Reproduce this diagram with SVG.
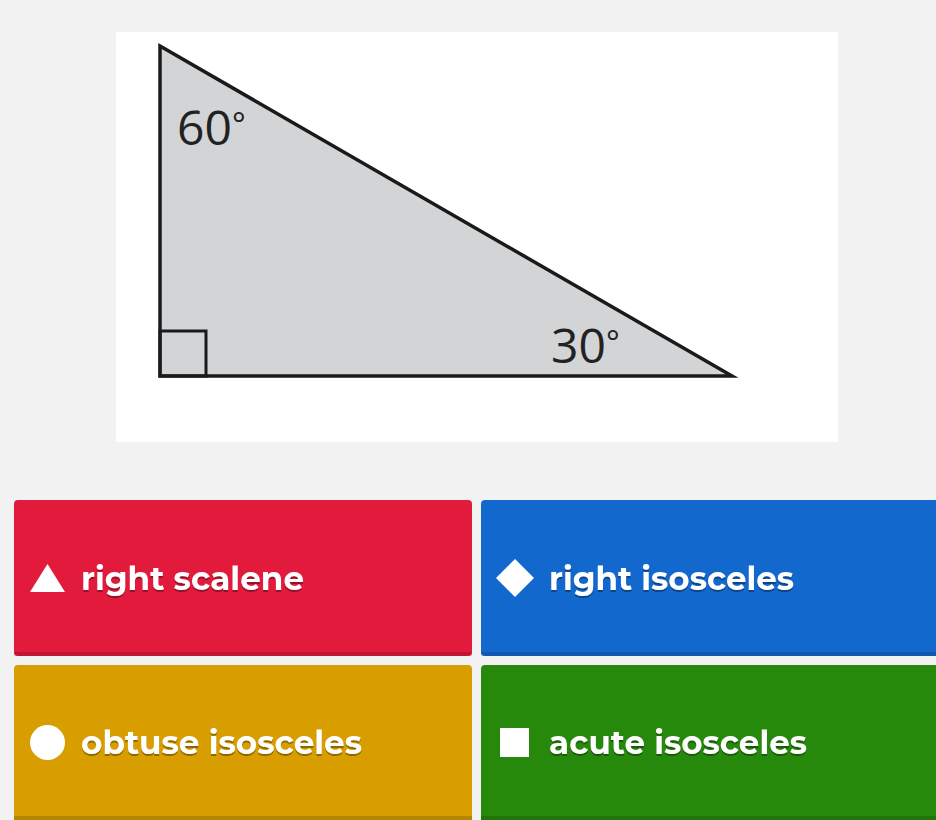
<svg xmlns="http://www.w3.org/2000/svg" width="936" height="820" viewBox="0 0 936 820">
<defs>
<style>
.lbl{font-family:"Montserrat","Open Sans","Liberation Sans",sans-serif;font-weight:700;font-size:32px;fill:#ffffff;filter:url(#ts)}
.ang{font-family:"Open Sans","Liberation Sans",sans-serif;font-size:48px;fill:#222}
.deg{font-size:32px}
.shade{fill:#000;opacity:0.15}
</style>
<filter id="ts" x="-5%" y="-20%" width="110%" height="150%">
<feDropShadow dx="0" dy="2" stdDeviation="0.6" flood-color="#000" flood-opacity="0.35"/>
</filter>
</defs>
<rect x="0" y="0" width="936" height="820" fill="#f2f2f2"/>
<g id="figure">
<rect x="116" y="32" width="722" height="410" fill="#ffffff"/>
<polygon points="160,46 160,376 732,376" fill="#d3d4d6" stroke="#1a1a1a" stroke-width="3.5" stroke-linejoin="miter"/>
<rect x="160" y="331" width="46" height="45" fill="none" stroke="#1a1a1a" stroke-width="3"/>
<text class="ang" x="177" y="145">60<tspan class="deg" dy="-9">°</tspan></text>
<text class="ang" x="551" y="363">30<tspan class="deg" dy="-9">°</tspan></text>
</g>
<g id="opt-red">
<rect x="14" y="500" width="458" height="156" rx="4" fill="#e21b3c"/>
<rect x="14" y="652" width="458" height="4" class="shade"/>
<polygon points="47.5,564 30,592 65,592" fill="#ffffff"/>
<text class="lbl" x="81" y="590" textLength="223" lengthAdjust="spacingAndGlyphs">right scalene</text>
</g>
<g id="opt-blue">
<rect x="481" y="500" width="462" height="156" rx="4" fill="#1368ce"/>
<rect x="481" y="652" width="462" height="4" class="shade"/>
<polygon points="515,559 534,578 515,597 496,578" fill="#ffffff"/>
<text class="lbl" x="549" y="590" textLength="245" lengthAdjust="spacingAndGlyphs">right isosceles</text>
</g>
<g id="opt-yellow">
<rect x="14" y="665" width="458" height="162" rx="4" fill="#d89e00"/>
<rect x="14" y="816" width="458" height="6" class="shade"/>
<circle cx="47.5" cy="742.5" r="17.5" fill="#ffffff"/>
<text class="lbl" x="81" y="754" textLength="281" lengthAdjust="spacingAndGlyphs">obtuse isosceles</text>
</g>
<g id="opt-green">
<rect x="481" y="665" width="462" height="162" rx="4" fill="#26890c"/>
<rect x="481" y="816" width="462" height="6" class="shade"/>
<rect x="500" y="728" width="29" height="29" fill="#ffffff"/>
<text class="lbl" x="549" y="754" textLength="258" lengthAdjust="spacingAndGlyphs">acute isosceles</text>
</g>
<g id="connectors"/>
</svg>
